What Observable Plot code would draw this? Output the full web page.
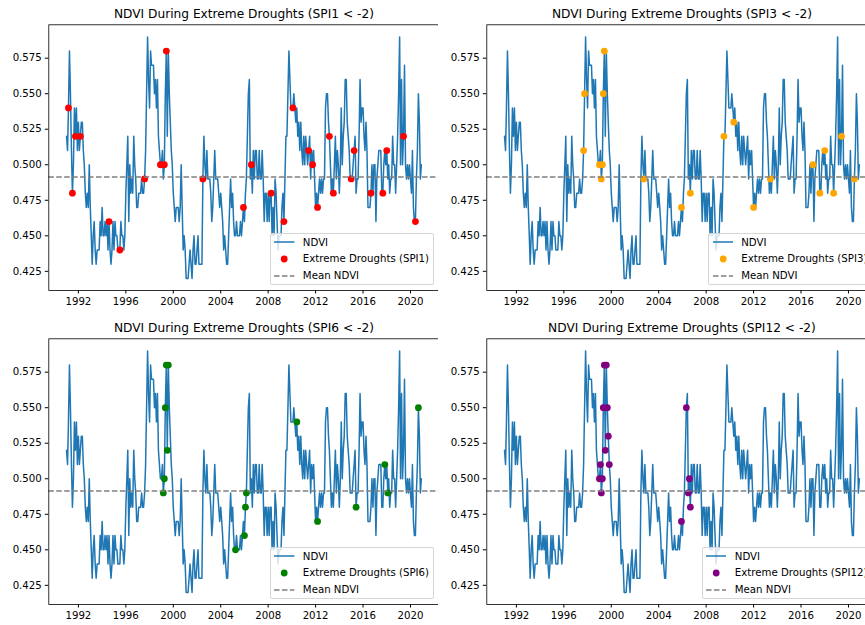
<!DOCTYPE html>
<html>
<head>
<meta charset="utf-8">
<script src="https://cdn.jsdelivr.net/npm/d3@7"></script>
<script src="https://cdn.jsdelivr.net/npm/@observablehq/plot@0.6"></script>
<style>
  html, body { margin: 0; padding: 0; background: white; }
  #fig { position: relative; width: 865px; height: 625px; overflow: hidden; background: white;
         font-family: "DejaVu Sans", sans-serif; }
  .panel { position: absolute; width: 440px; height: 310px; }
  .legend { position: absolute; right: 6px; bottom: 25px; background: rgba(255,255,255,0.8);
            border: 1px solid rgba(204,204,204,0.8); border-radius: 2px; padding: 0 4px 0 3.5px;
            font-size: 10.2px; color: #000; white-space: nowrap; }
  .legend .row { display: flex; align-items: center; height: 16.7px; }
  .legend svg { display: block; margin-right: 8.3px; }
</style>
</head>
<body>
<div id="fig"></div>
<script>
// Monthly NDVI, January 1991 to December 2020 (one row per year)
const startYear = 1991;
const ndvi = [
  0.52, 0.51, 0.54, 0.58, 0.55, 0.51, 0.48, 0.50, 0.54, 0.52, 0.54, 0.51, // 1991
  0.53, 0.51, 0.52, 0.53, 0.53, 0.51, 0.50, 0.48, 0.47, 0.48, 0.47, 0.50, // 1992
  0.47, 0.45, 0.43, 0.45, 0.46, 0.44, 0.43, 0.44, 0.44, 0.44, 0.46, 0.45, // 1993
  0.47, 0.45, 0.45, 0.46, 0.45, 0.46, 0.44, 0.46, 0.44, 0.43, 0.44, 0.46, // 1994
  0.44, 0.46, 0.45, 0.45, 0.44, 0.44, 0.44, 0.46, 0.45, 0.45, 0.44, 0.45, // 1995
  0.48, 0.50, 0.52, 0.46, 0.50, 0.48, 0.49, 0.48, 0.52, 0.50, 0.49, 0.47, // 1996
  0.47, 0.48, 0.48, 0.48, 0.49, 0.48, 0.48, 0.49, 0.51, 0.55, 0.59, 0.56, // 1997
  0.54, 0.58, 0.57, 0.57, 0.57, 0.55, 0.56, 0.54, 0.56, 0.52, 0.51, 0.50, // 1998
  0.50, 0.51, 0.49, 0.50, 0.55, 0.58, 0.52, 0.58, 0.55, 0.53, 0.51, 0.50, // 1999
  0.48, 0.47, 0.46, 0.47, 0.47, 0.47, 0.46, 0.47, 0.50, 0.47, 0.44, 0.45, // 2000
  0.44, 0.42, 0.42, 0.42, 0.43, 0.44, 0.43, 0.42, 0.44, 0.45, 0.43, 0.43, // 2001
  0.44, 0.45, 0.43, 0.43, 0.43, 0.43, 0.49, 0.52, 0.50, 0.49, 0.51, 0.49, // 2002
  0.49, 0.49, 0.48, 0.46, 0.47, 0.49, 0.51, 0.49, 0.49, 0.49, 0.48, 0.47, // 2003
  0.48, 0.47, 0.46, 0.44, 0.45, 0.44, 0.43, 0.43, 0.45, 0.47, 0.49, 0.47, // 2004
  0.48, 0.46, 0.45, 0.45, 0.46, 0.45, 0.45, 0.45, 0.46, 0.45, 0.46, 0.47, // 2005
  0.46, 0.48, 0.49, 0.52, 0.55, 0.56, 0.49, 0.50, 0.48, 0.51, 0.49, 0.51, // 2006
  0.51, 0.49, 0.49, 0.51, 0.49, 0.49, 0.51, 0.49, 0.46, 0.48, 0.48, 0.46, // 2007
  0.48, 0.46, 0.48, 0.48, 0.45, 0.47, 0.45, 0.49, 0.48, 0.46, 0.44, 0.45, // 2008
  0.45, 0.45, 0.47, 0.48, 0.46, 0.49, 0.52, 0.52, 0.55, 0.58, 0.56, 0.54, // 2009
  0.54, 0.54, 0.55, 0.54, 0.53, 0.54, 0.52, 0.53, 0.51, 0.53, 0.51, 0.50, // 2010
  0.52, 0.50, 0.52, 0.51, 0.50, 0.51, 0.52, 0.49, 0.51, 0.50, 0.51, 0.49, // 2011
  0.47, 0.48, 0.47, 0.48, 0.49, 0.48, 0.49, 0.48, 0.49, 0.49, 0.54, 0.55, // 2012
  0.55, 0.53, 0.52, 0.50, 0.48, 0.49, 0.48, 0.50, 0.52, 0.49, 0.51, 0.50, // 2013
  0.48, 0.50, 0.54, 0.50, 0.52, 0.53, 0.56, 0.56, 0.53, 0.52, 0.51, 0.49, // 2014
  0.49, 0.49, 0.50, 0.51, 0.52, 0.48, 0.49, 0.49, 0.52, 0.56, 0.53, 0.54, // 2015
  0.54, 0.52, 0.51, 0.53, 0.51, 0.47, 0.47, 0.47, 0.48, 0.50, 0.48, 0.50, // 2016
  0.50, 0.46, 0.49, 0.50, 0.51, 0.51, 0.51, 0.48, 0.48, 0.50, 0.51, 0.50, // 2017
  0.51, 0.49, 0.50, 0.48, 0.49, 0.49, 0.52, 0.50, 0.50, 0.48, 0.50, 0.52, // 2018
  0.55, 0.59, 0.50, 0.56, 0.50, 0.52, 0.57, 0.50, 0.49, 0.50, 0.49, 0.50, // 2019
  0.49, 0.48, 0.51, 0.47, 0.46, 0.46, 0.49, 0.51, 0.55, 0.53, 0.49, 0.50  // 2020
];

// Months in which each SPI index fell below -2
const spi1Droughts = ["1991-03","1991-07","1991-10","1992-03","1994-08","1995-07","1997-08",
  "1998-12","1999-04","1999-06","2002-07","2005-12","2006-08","2008-04","2009-05","2010-02",
  "2011-06","2011-10","2012-03","2013-03","2013-07","2015-01","2015-04","2016-09","2017-09",
  "2018-01","2019-06","2020-06"];
const spi3Droughts = ["1997-09","1997-10","1999-01","1999-03","1999-04","1999-05","1999-06",
  "2002-10","2005-12","2006-09","2009-07","2010-05","2012-01","2013-06","2017-01","2017-08",
  "2018-01","2018-10","2019-06","2020-07"];
const spi6Droughts = ["1999-03","1999-04","1999-05","1999-06","1999-07","1999-08","2005-04",
  "2006-01","2006-02","2006-03","2010-06","2012-03","2015-06","2017-11","2018-02","2020-09"];
const spi12Droughts = ["1999-01","1999-02","1999-03","1999-04","1999-05","1999-06","1999-07",
  "1999-08","1999-09","1999-10","1999-11","2005-12","2006-05","2006-07","2006-08","2006-09"];

const panels = [
  {name: "SPI1", months: spi1Droughts, color: "red", left: 0, top: 0},
  {name: "SPI3", months: spi3Droughts, color: "orange", left: 438.4, top: 0},
  {name: "SPI6", months: spi6Droughts, color: "green", left: 0, top: 314},
  {name: "SPI12", months: spi12Droughts, color: "purple", left: 438.4, top: 314}
];

const yTicks = [0.425, 0.450, 0.475, 0.500, 0.525, 0.550, 0.575];
const lineColor = "#1f77b4";

const series = ndvi.map((v, i) => ({date: new Date(Date.UTC(startYear, i, 1)), ndvi: v}));
const byMonth = new Map(series.map(d => [d3.utcFormat("%Y-%m")(d.date), d]));
const meanNDVI = d3.mean(ndvi);

// matplotlib-style 5% padding around the data extent
const pad = ([a, b]) => [a - (b - a) * 0.05, b + (b - a) * 0.05];
const xExt = d3.extent(series, d => +d.date);
const xDomain = pad(xExt).map(t => new Date(t));
const yDomain = pad(d3.extent(ndvi));

const fig = document.getElementById("fig");

for (const p of panels) {
  const pts = p.months.map(m => byMonth.get(m)).filter(Boolean);
  const chart = Plot.plot({
    width: 440,
    height: 310,
    marginLeft: 48.3,
    marginRight: 1.4,
    marginTop: 24.3,
    marginBottom: 20,
    style: {fontFamily: "DejaVu Sans", fontSize: "10.2px", color: "black", background: "white", overflow: "visible"},
    x: {type: "utc", domain: xDomain},
    y: {domain: yDomain},
    marks: [
      Plot.lineY(series, {x: "date", y: "ndvi", stroke: lineColor, strokeWidth: 1.5, strokeLinejoin: "round"}),
      Plot.dot(pts, {x: "date", y: "ndvi", r: 3.4, fill: p.color, stroke: null}),
      Plot.ruleY([meanNDVI], {stroke: "gray", strokeWidth: 1.5, strokeDasharray: "5.55,2.4"}),
      Plot.frame({stroke: "black", strokeWidth: 0.8}),
      Plot.axisX({ticks: d3.utcYear.every(4), tickFormat: "%Y", tickSize: 3.5, tickPadding: 3.5, label: null, fontSize: 10.2}),
      Plot.axisY({ticks: yTicks, tickFormat: d3.format(".3f"), tickSize: 3.5, tickPadding: 3.5, label: null, fontSize: 10.2}),
      Plot.text([`NDVI During Extreme Droughts (${p.name} < -2)`], {frameAnchor: "top", dy: -7, lineAnchor: "bottom", fontSize: 12.2, fill: "black"})
    ]
  });

  const panel = document.createElement("div");
  panel.className = "panel";
  panel.style.left = p.left + "px";
  panel.style.top = p.top + "px";
  panel.appendChild(chart);

  const legend = document.createElement("div");
  legend.className = "legend";
  legend.innerHTML = `
    <div class="row"><svg width="20.4" height="10"><line x1="0" x2="20.4" y1="5" y2="5" stroke="${lineColor}" stroke-width="1.5"/></svg><span>NDVI</span></div>
    <div class="row"><svg width="20.4" height="10"><circle cx="10.2" cy="5" r="3.4" fill="${p.color}"/></svg><span>Extreme Droughts (${p.name})</span></div>
    <div class="row"><svg width="20.4" height="10"><line x1="0" x2="20.4" y1="5" y2="5" stroke="gray" stroke-width="1.5" stroke-dasharray="5.55,2.4"/></svg><span>Mean NDVI</span></div>`;
  panel.appendChild(legend);
  fig.appendChild(panel);
}
</script>
</body>
</html>
